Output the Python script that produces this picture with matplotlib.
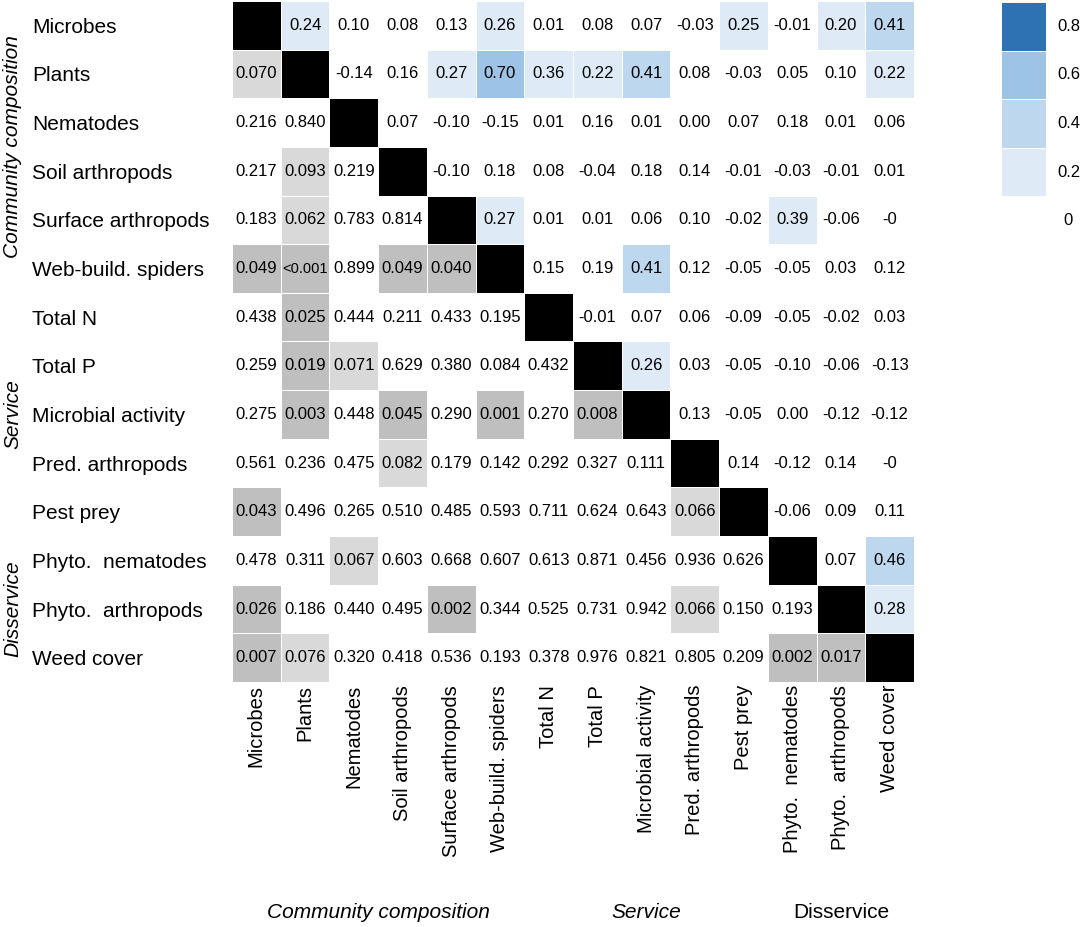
import numpy as np
import matplotlib.pyplot as plt
from matplotlib.colors import ListedColormap, BoundaryNorm

plt.rcParams['font.family'] = ['Liberation Sans', 'DejaVu Sans']

variables = ["Microbes", "Plants", "Nematodes", "Soil arthropods", "Surface arthropods",
             "Web-build. spiders", "Total N", "Total P", "Microbial activity",
             "Pred. arthropods", "Pest prey", "Phyto.  nematodes", "Phyto.  arthropods",
             "Weed cover"]
groups = ["Community composition", "Service", "Disservice"]
group_sizes = [6, 5, 3]

# correlation coefficients (upper triangle), row by row; -0.0 is printed as "-0"
r_upper = [
    [0.24, 0.10, 0.08, 0.13, 0.26, 0.01, 0.08, 0.07, -0.03, 0.25, -0.01, 0.20, 0.41],
    [-0.14, 0.16, 0.27, 0.70, 0.36, 0.22, 0.41, 0.08, -0.03, 0.05, 0.10, 0.22],
    [0.07, -0.10, -0.15, 0.01, 0.16, 0.01, 0.00, 0.07, 0.18, 0.01, 0.06],
    [-0.10, 0.18, 0.08, -0.04, 0.18, 0.14, -0.01, -0.03, -0.01, 0.01],
    [0.27, 0.01, 0.01, 0.06, 0.10, -0.02, 0.39, -0.06, -0.0],
    [0.15, 0.19, 0.41, 0.12, -0.05, -0.05, 0.03, 0.12],
    [-0.01, 0.07, 0.06, -0.09, -0.05, -0.02, 0.03],
    [0.26, 0.03, -0.05, -0.10, -0.06, -0.13],
    [0.13, -0.05, 0.00, -0.12, -0.12],
    [0.14, -0.12, 0.14, -0.0],
    [-0.06, 0.09, 0.11],
    [0.07, 0.46],
    [0.28],
]

# p-values (lower triangle), row by row; 0.0 means "<0.001"
p_lower = [
    [0.070],
    [0.216, 0.840],
    [0.217, 0.093, 0.219],
    [0.183, 0.062, 0.783, 0.814],
    [0.049, 0.0, 0.899, 0.049, 0.040],
    [0.438, 0.025, 0.444, 0.211, 0.433, 0.195],
    [0.259, 0.019, 0.071, 0.629, 0.380, 0.084, 0.432],
    [0.275, 0.003, 0.448, 0.045, 0.290, 0.001, 0.270, 0.008],
    [0.561, 0.236, 0.475, 0.082, 0.179, 0.142, 0.292, 0.327, 0.111],
    [0.043, 0.496, 0.265, 0.510, 0.485, 0.593, 0.711, 0.624, 0.643, 0.066],
    [0.478, 0.311, 0.067, 0.603, 0.668, 0.607, 0.613, 0.871, 0.456, 0.936, 0.626],
    [0.026, 0.186, 0.440, 0.495, 0.002, 0.344, 0.525, 0.731, 0.942, 0.066, 0.150, 0.193],
    [0.007, 0.076, 0.320, 0.418, 0.536, 0.193, 0.378, 0.976, 0.821, 0.805, 0.209, 0.002, 0.017],
]
# cell left unshaded in the original figure
unshaded = [(7, 5)]

legend_levels = [0.8, 0.6, 0.4, 0.2, 0]

# 0 white, 1-4 blues, 5 light grey (p<0.1), 6 grey (p<0.05), 7 diagonal
colors = ['#ffffff', '#deebf7', '#bdd7ee', '#9dc3e6', '#2e72b4', '#d9d9d9', '#bfbfbf', '#000000']
cmap = ListedColormap(colors)
norm = BoundaryNorm(np.arange(-0.5, len(colors) + 0.5), len(colors))
r_bins = [0.2, 0.4, 0.6, 0.8]

n = len(variables)
cls = np.zeros((n, n), dtype=int)
labels = [["" for _ in range(n)] for _ in range(n)]
for i in range(n):
    cls[i, i] = 7
    for k, v in enumerate(r_upper[i] if i < n - 1 else []):
        j = i + 1 + k
        cls[i, j] = np.digitize(v, r_bins)
        labels[i][j] = "-0" if (v == 0 and np.signbit(v)) else f"{v:.2f}"
    if i > 0:
        for j, p in enumerate(p_lower[i - 1]):
            if (i, j) not in unshaded:
                cls[i, j] = 6 if p < 0.05 else (5 if p < 0.1 else 0)
            labels[i][j] = "<0.001" if p < 0.001 else f"{p:.3f}"

W, H = 1084, 927
fig = plt.figure(figsize=(W / 100, H / 100), dpi=100)
ax = fig.add_axes([232 / W, 1 - 682 / H, 682 / W, 681 / H])
ax.pcolormesh(np.arange(n + 1), np.arange(n + 1), cls, cmap=cmap, norm=norm,
              edgecolors='white', linewidth=0.4)
ax.set_xlim(0, n)
ax.set_ylim(n, 0)
for i in range(n):
    for j in range(n):
        if labels[i][j]:
            fs = 10.5 if labels[i][j].startswith("<") else 12
            ax.text(j + 0.5, i + 0.5, labels[i][j], ha='center', va='center',
                    fontsize=fs, color='black')

ax.set_xticks(np.arange(n) + 0.5)
ax.set_xticklabels(variables, rotation=90, fontsize=14.5, va='top', ha='center')
ax.set_yticks(np.arange(n) + 0.5)
ax.set_yticklabels(variables, fontsize=15, ha='left')
ax.tick_params(axis='x', length=0, pad=2)
ax.tick_params(axis='y', length=0, pad=144)
for s in ax.spines.values():
    s.set_visible(False)

# group labels
starts = np.cumsum([0] + group_sizes[:-1])
for g, s0, sz in zip(groups, starts, group_sizes):
    mid = s0 + sz / 2
    yc = 1 + mid * 681 / n
    fig.text(13 / W, 1 - yc / H, g, rotation=90, ha='center', va='center',
             fontsize=15, style='italic')
    xc = 232 + mid * 682 / n
    fig.text(xc / W, 1 - 913 / H, g, ha='center', va='center', fontsize=15,
             style='normal' if g == "Disservice" else 'italic')

# legend
lax = fig.add_axes([1001 / W, 1 - 245 / H, 45 / W, 243 / H])
lcls = np.digitize(legend_levels, r_bins).reshape(-1, 1)
lax.pcolormesh([0, 1], np.arange(len(legend_levels) + 1), lcls, cmap=cmap, norm=norm,
               edgecolors='white', linewidth=0.4)
lax.set_xlim(0, 1)
lax.set_ylim(len(legend_levels), 0)
for k, lv in enumerate(legend_levels):
    lax.text(1.5, k + 0.5, f"{lv:g}", ha='center', va='center', fontsize=12,
             transform=lax.transData, clip_on=False)
lax.axis('off')

fig.savefig("out.png", dpi=100)
